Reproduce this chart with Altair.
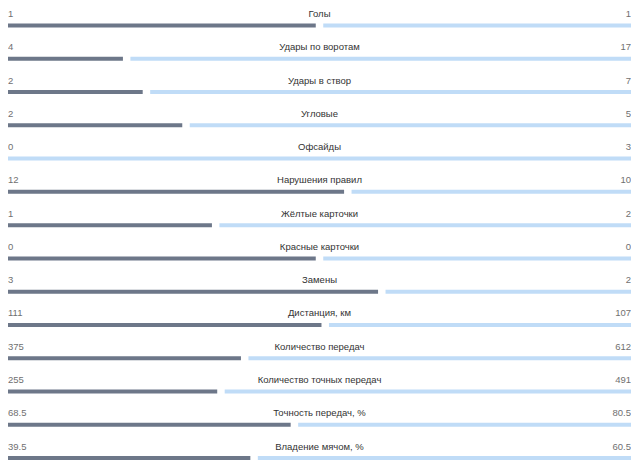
import altair as alt
import pandas as pd

labels = ["Голы", "Удары по воротам", "Удары в створ", "Угловые", "Офсайды",
          "Нарушения правил", "Жёлтые карточки", "Красные карточки", "Замены",
          "Дистанция, км", "Количество передач", "Количество точных передач",
          "Точность передач, %", "Владение мячом, %"]
left_values = [1, 4, 2, 2, 0, 12, 1, 0, 3, 111, 375, 255, 68.5, 39.5]
right_values = [1, 17, 7, 5, 3, 10, 2, 0, 2, 107, 612, 491, 80.5, 60.5]

GAP = 0.006
BAR_OFFSET = 0.2555

rows = []
for i, (lab, l, r) in enumerate(zip(labels, left_values, right_values)):
    tot = l + r
    share = 0.5 if tot == 0 else l / tot
    has_left = (l > 0) or (tot == 0)
    rows.append({
        "row": i, "bar_row": i + BAR_OFFSET, "label": lab,
        "ltxt": f"{l:g}", "rtxt": f"{r:g}",
        "l0": 0.0, "l1": max(share - GAP, 0.0),
        "r0": min(share + GAP, 1.0) if has_left else 0.0, "r1": 1.0,
        "mid": 0.5, "has_left": has_left,
    })
df = pd.DataFrame(rows)

xs = alt.Scale(domain=[0, 1], nice=False, zero=False)
ys = alt.Scale(domain=[-0.2705, 13.405], nice=False, zero=False, reverse=True)

base = alt.Chart(df)

left_bar = base.transform_filter("datum.has_left").mark_rule(
    strokeWidth=4, color="#6d7789", strokeCap="butt"
).encode(
    x=alt.X("l0:Q", scale=xs, axis=None), x2="l1:Q",
    y=alt.Y("bar_row:Q", scale=ys, axis=None),
)
right_bar = base.mark_rule(strokeWidth=4, color="#c0dcf7", strokeCap="butt").encode(
    x=alt.X("r0:Q", scale=xs, axis=None), x2="r1:Q",
    y=alt.Y("bar_row:Q", scale=ys, axis=None),
)

font = "Liberation Sans"
center_txt = base.mark_text(align="center", baseline="alphabetic", fontSize=9.5,
                            font=font, color="#333333").encode(
    x=alt.X("mid:Q", scale=xs, axis=None),
    y=alt.Y("row:Q", scale=ys, axis=None),
    text="label:N",
)
left_txt = base.mark_text(align="left", baseline="alphabetic", fontSize=9.5,
                          font=font, color="#707070").encode(
    x=alt.X("l0:Q", scale=xs, axis=None),
    y=alt.Y("row:Q", scale=ys, axis=None),
    text="ltxt:N",
)
right_txt = base.mark_text(align="right", baseline="alphabetic", fontSize=9.5,
                           font=font, color="#707070").encode(
    x=alt.X("r1:Q", scale=xs, axis=None),
    y=alt.Y("row:Q", scale=ys, axis=None),
    text="rtxt:N",
)

chart = alt.layer(left_bar, right_bar, center_txt, left_txt, right_txt).properties(
    width=623, height=455, padding=0, autosize=alt.AutoSizeParams(type="none"),
    background="white",
).configure_view(stroke=None)

chart.save("out.html", embed_options={"renderer": "svg", "actions": False})
